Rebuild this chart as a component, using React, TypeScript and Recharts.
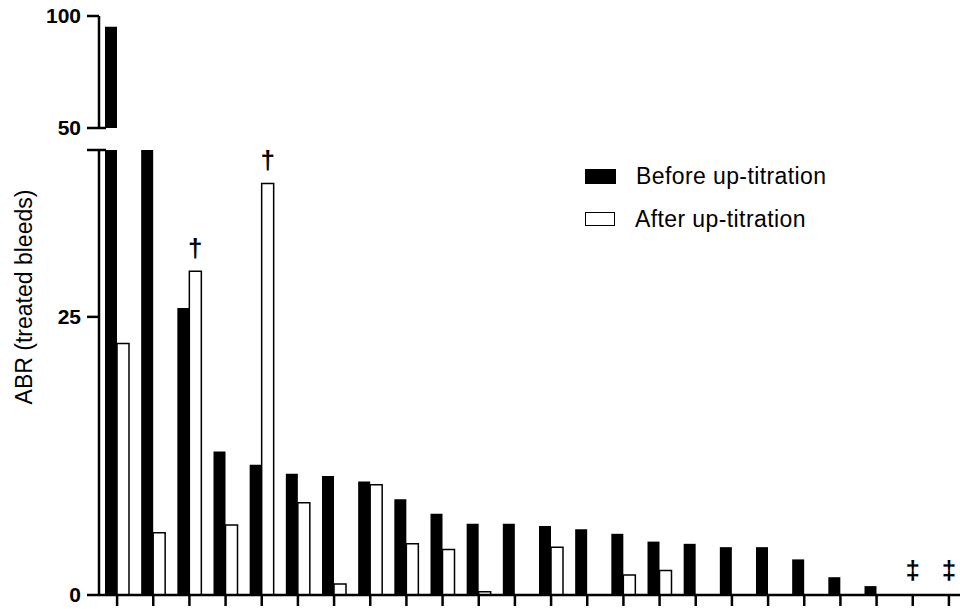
import React from 'react';
import { BarChart, Bar, XAxis, YAxis, LabelList, ReferenceDot } from 'recharts';

const patients = Array.from({ length: 24 }, (_, i) => `P${i + 1}`);

// ABR before and after up-titration
const beforeAbr = [95.2, 45, 25.8, 12.9, 11.7, 10.9, 10.7, 10.2, 8.6, 7.3, 6.4, 6.4, 6.2, 5.9, 5.5, 4.8, 4.6, 4.3, 4.3, 3.2, 1.6, 0.8, 0, 0];
const afterAbr = [22.6, 5.6, 29.1, 6.3, 37.0, 8.3, 1.0, 9.9, 4.6, 4.1, 0.3, 0, 4.3, 0, 1.8, 2.2, 0, 0, 0, 0, 0, 0, 0, 0];
const marks = ['', '', '†', '', '†', '', '', '', '', '', '', '', '', '', '', '', '', '', '', '', '', '', '‡', '‡'];

const lowerTicks = [0, 25, 40];
const upperTicks = [50, 100];
const lowerMax = 40;
const upperMin = 50;

const lowerData = patients.map((p, i) => ({
  patient: p,
  before: beforeAbr[i],
  after: afterAbr[i],
  mark: marks[i] === '†' ? '†' : '',
}));

const upperData = patients.map((p, i) => ({
  patient: p,
  before: beforeAbr[i] >= upperMin ? beforeAbr[i] : null,
  after: afterAbr[i] >= upperMin ? afterAbr[i] : null,
}));

// ‡ marks sit on the axis over the group centre (no bars there)
const doubleDaggers = patients.filter((_, i) => marks[i] === '‡');

const FONT = '"Liberation Sans", Arial, Helvetica, sans-serif';
const W = 1000;
const margin = { left: 0, right: 33 };

// y tick: bold label, hidden label at the break value, small cap across the axis at the break
function YTick(props: any) {
  const { x, y, payload, capValue } = props;
  const v = payload.value;
  const isCap = v === capValue;
  return (
    <g>
      {isCap && <line x1={x + 18} x2={x + 25} y1={y} y2={y} stroke="#000" strokeWidth={2.5} />}
      {v !== lowerMax && (
        <text x={x} y={y} dy={7} textAnchor="end" fontFamily={FONT} fontWeight="bold" fontSize={21} fill="#000">
          {v}
        </text>
      )}
    </g>
  );
}

function MarkLabel(props: any) {
  const { x, y, width, value } = props;
  if (!value) return null;
  return (
    <text x={x + width / 2} y={y - 14} textAnchor="middle" fontFamily={FONT} fontWeight="bold" fontSize={26} fill="#000">
      {value}
    </text>
  );
}

function DoubleDagger(props: any) {
  const { cx, cy } = props;
  return (
    <text x={cx} y={cy - 16} textAnchor="middle" fontFamily={FONT} fontWeight="bold" fontSize={26} fill="#000">
      ‡
    </text>
  );
}

export default function App() {
  return (
    <div style={{ position: 'absolute', left: 0, top: 0, width: 960, height: 609, overflow: 'hidden', background: '#fff', fontFamily: FONT }}>
      {/* upper segment 50-100 */}
      <div style={{ position: 'absolute', left: 0, top: 0 }}>
        <BarChart width={W} height={140} data={upperData} margin={{ ...margin, top: 16, bottom: 12 }} barGap={0}>
          <XAxis dataKey="patient" hide />
          <YAxis
            width={99}
            domain={[upperMin, 100]}
            ticks={upperTicks}
            allowDataOverflow
            interval={0}
            axisLine={{ stroke: '#000', strokeWidth: 2.5 }}
            tickLine={{ stroke: '#000', strokeWidth: 2.5 }}
            tickSize={12}
            tickMargin={6}
            tick={<YTick capValue={upperMin} />}
          />
          <Bar dataKey="before" fill="#000" barSize={12} isAnimationActive={false} />
          <Bar dataKey="after" fill="#fff" stroke="#000" strokeWidth={1.5} barSize={12} isAnimationActive={false} />
        </BarChart>
      </div>

      {/* lower segment 0-40 */}
      <div style={{ position: 'absolute', left: 0, top: 0 }}>
        <BarChart width={W} height={609} data={lowerData} margin={{ ...margin, top: 150, bottom: 0 }} barGap={0}>
          <XAxis
            dataKey="patient"
            height={14}
            interval={0}
            axisLine={{ stroke: '#000', strokeWidth: 2.5 }}
            tickLine={{ stroke: '#000', strokeWidth: 2.5 }}
            tickSize={11}
            tickFormatter={() => ''}
          />
          <YAxis
            width={99}
            domain={[0, lowerMax]}
            ticks={lowerTicks}
            allowDataOverflow
            interval={0}
            axisLine={{ stroke: '#000', strokeWidth: 2.5 }}
            tickLine={{ stroke: '#000', strokeWidth: 2.5 }}
            tickSize={12}
            tickMargin={6}
            tick={<YTick capValue={lowerMax} />}
          />
          <Bar dataKey="before" fill="#000" barSize={12} isAnimationActive={false} />
          <Bar dataKey="after" fill="#fff" stroke="#000" strokeWidth={1.5} barSize={12} isAnimationActive={false}>
            <LabelList dataKey="mark" content={<MarkLabel />} />
          </Bar>
          {doubleDaggers.map((p) => (
            <ReferenceDot key={p} x={p} y={0} r={0} shape={<DoubleDagger />} />
          ))}
        </BarChart>
      </div>

      {/* y axis title */}
      <div
        style={{
          position: 'absolute',
          left: 24,
          top: 297,
          transform: 'translate(-50%, -50%) rotate(-90deg)',
          whiteSpace: 'nowrap',
          fontSize: 23,
          color: '#000',
        }}
      >
        ABR (treated bleeds)
      </div>

      {/* legend */}
      <div style={{ position: 'absolute', left: 585, top: 162, fontSize: 23, letterSpacing: 0.4, color: '#000' }}>
        <div style={{ display: 'flex', alignItems: 'center', height: 28 }}>
          <span style={{ display: 'inline-block', width: 31, height: 15, background: '#000', marginRight: 20 }} />
          <span>Before up-titration</span>
        </div>
        <div style={{ display: 'flex', alignItems: 'center', height: 28, marginTop: 15 }}>
          <span style={{ display: 'inline-block', width: 28, height: 12, border: '1.5px solid #000', background: '#fff', marginRight: 20 }} />
          <span>After up-titration</span>
        </div>
      </div>
    </div>
  );
}
